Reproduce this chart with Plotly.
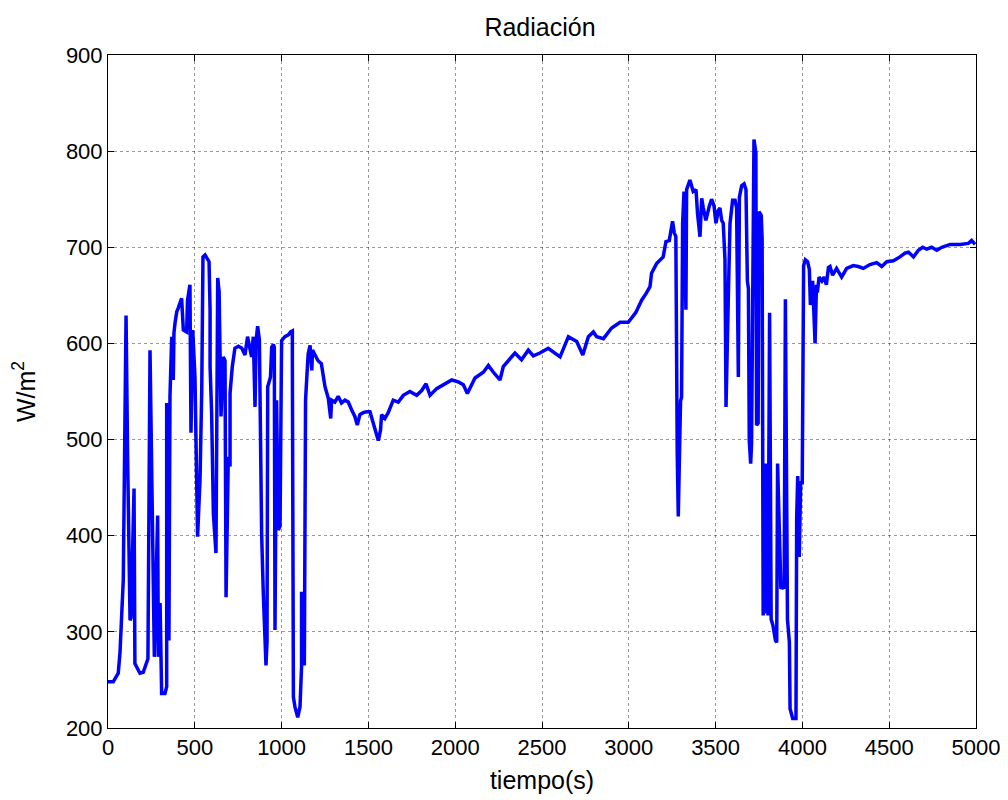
import plotly.graph_objects as go

tiempo = [0, 30, 59, 69, 88, 104, 113, 127, 133, 150, 155, 184, 203, 223, 230, 242, 257, 267, 286, 290,
          300, 309, 328, 338, 338, 351, 357, 367, 376, 380, 386, 396, 405, 424, 434, 453, 458, 472, 478, 488,
          501, 516, 530, 540, 547, 559, 582, 588, 588, 597, 607, 622, 632, 640, 651, 664, 674, 680, 693, 703,
          703, 716, 731, 751, 771, 789, 804, 818, 827, 837, 847, 853, 862, 872, 878, 885, 894, 910, 916, 920,
          936, 943, 953, 958, 962, 971, 981, 991, 997, 1000, 1019, 1039, 1052, 1062, 1062, 1068, 1077, 1093, 1106, 1115,
          1115, 1130, 1131, 1138, 1144, 1153, 1164, 1174, 1178, 1191, 1210, 1229, 1244, 1250, 1269, 1283, 1288, 1307, 1326, 1345,
          1365, 1384, 1403, 1422, 1436, 1451, 1470, 1490, 1509, 1528, 1547, 1557, 1570, 1576, 1595, 1614, 1643, 1672, 1701, 1739,
          1778, 1807, 1832, 1855, 1893, 1941, 1980, 2018, 2047, 2070, 2114, 2162, 2191, 2220, 2258, 2277, 2344, 2382, 2421, 2450,
          2488, 2536, 2604, 2652, 2700, 2735, 2767, 2796, 2815, 2854, 2901, 2950, 2997, 3040, 3074, 3100, 3122, 3131, 3160, 3198,
          3214, 3233, 3252, 3262, 3271, 3279, 3285, 3298, 3304, 3310, 3318, 3329, 3333, 3352, 3371, 3387, 3396, 3410, 3420, 3429,
          3444, 3464, 3477, 3491, 3502, 3515, 3525, 3535, 3544, 3554, 3560, 3573, 3583, 3598, 3612, 3621, 3631, 3637, 3650, 3664,
          3675, 3683, 3689, 3694, 3702, 3707, 3721, 3732, 3736, 3745, 3750, 3763, 3768, 3774, 3780, 3787, 3793, 3802, 3811, 3820,
          3830, 3845, 3852, 3857, 3866, 3876, 3885, 3895, 3902, 3906, 3914, 3925, 3929, 3944, 3963, 3967, 3973, 3982, 3990, 3999,
          4007, 4017, 4030, 4040, 4046, 4059, 4073, 4081, 4086, 4096, 4112, 4125, 4138, 4150, 4159, 4174, 4197, 4226, 4255, 4293,
          4322, 4351, 4389, 4428, 4457, 4486, 4524, 4562, 4591, 4611, 4640, 4668, 4693, 4716, 4745, 4774, 4803, 4851, 4908, 4956,
          4975, 4995]

radiacion = [248, 248, 257, 278, 354, 629, 482, 312, 315, 449, 267, 257, 258, 270, 272, 593, 364, 274, 421, 274,
             330, 236, 236, 243, 538, 291, 545, 607, 562, 611, 621, 633, 637, 647, 614, 612, 645, 661, 507, 614,
             565, 399, 458, 551, 690, 692, 685, 635, 576, 527, 423, 382, 668, 654, 524, 586, 582, 336, 482, 472,
             548, 576, 595, 597, 595, 588, 607, 593, 586, 607, 534, 603, 618, 604, 499, 402, 343, 265, 290, 555,
             565, 596, 599, 596, 302, 541, 406, 410, 541, 603, 607, 609, 612, 613, 582, 232, 222, 211, 222, 264,
             340, 340, 265, 541, 561, 589, 598, 572, 593, 589, 582, 579, 559, 555, 543, 522, 541, 539, 545, 538,
             541, 539, 531, 524, 515, 526, 528, 529, 529, 517, 508, 499, 510, 526, 522, 528, 541, 539, 546, 550,
             546, 551, 558, 546, 553, 558, 562, 560, 557, 548, 564, 570, 577, 570, 562, 576, 590, 583, 593, 587,
             590, 595, 586, 607, 602, 588, 607, 612, 607, 605, 616, 622, 622, 632, 645, 652, 659, 673, 683, 690,
             706, 707, 727, 715, 711, 486, 420, 540, 544, 725, 758, 635, 760, 770, 758, 760, 735, 711, 751, 741,
             728, 743, 750, 743, 725, 738, 741, 728, 725, 687, 534, 645, 725, 749, 749, 741, 565, 752, 764, 766,
             760, 665, 657, 499, 475, 495, 812, 798, 515, 517, 737, 733, 709, 317, 475, 319, 475, 317, 632, 313,
             307, 291, 289, 475, 402, 345, 347, 345, 646, 507, 313, 289, 220, 210, 210, 418, 462, 378, 455, 455,
             681, 687, 685, 677, 640, 665, 600, 661, 653, 669, 665, 669, 661, 679, 680, 671, 678, 669, 678, 681,
             680, 678, 682, 684, 680, 685, 686, 690, 694, 695, 690, 697, 700, 698, 700, 697, 700, 703, 703, 704,
             707, 703]

titulo = "Radiación"
etiqueta_x = "tiempo(s)"
etiqueta_y = "W/m<sup>2</sup>"
ticks_x = [0, 500, 1000, 1500, 2000, 2500, 3000, 3500, 4000, 4500, 5000]
ticks_y = [200, 300, 400, 500, 600, 700, 800, 900]

fig = go.Figure()
fig.add_trace(go.Scatter(x=tiempo, y=radiacion, mode="lines",
                         line=dict(color="#0000FF", width=3.5), showlegend=False))

fuente = "Liberation Sans, Arial, sans-serif"
eje = dict(showline=True, linecolor="black", linewidth=1, mirror="ticks",
           ticks="inside", ticklen=6, tickcolor="black", tickwidth=1,
           showgrid=True, gridcolor="rgba(0,0,0,0.4)", griddash="dot", gridwidth=1,
           zeroline=False, automargin=False,
           tickfont=dict(family=fuente, size=22, color="black"))

# the page body has an 8 px margin, so the plot margins are shifted to match
fig.update_layout(
    width=1008, height=800,
    margin=dict(l=100, r=40, t=47, b=80),
    paper_bgcolor="white", plot_bgcolor="white",
    title=dict(text=titulo, x=532 / 1008, xanchor="center", y=1 - 19 / 800, yanchor="middle",
               yref="container", font=dict(family=fuente, size=25, color="black")),
    xaxis=dict(range=[0, 5000], tickvals=ticks_x,
               title=dict(text=etiqueta_x, font=dict(family=fuente, size=25, color="black"), standoff=12),
               **eje),
    yaxis=dict(range=[200, 900], tickvals=ticks_y,
               title=dict(text=etiqueta_y, font=dict(family=fuente, size=25, color="black"), standoff=24),
               **eje),
)

fig.write_html("out.html")
